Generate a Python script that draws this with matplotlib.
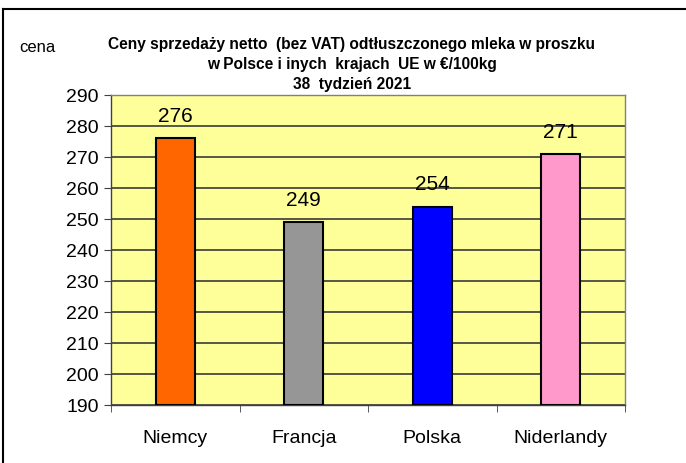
import matplotlib
matplotlib.use("Agg")
import matplotlib.pyplot as plt
from matplotlib import font_manager
from matplotlib.lines import Line2D

names = {f.name for f in font_manager.fontManager.ttflist}
narrow = "Liberation Sans Narrow" if "Liberation Sans Narrow" in names else "Liberation Sans"

categories = ["Niemcy", "Francja", "Polska", "Niderlandy"]
values = [276, 249, 254, 271]
colors = ["#FF6600", "#969696", "#0000FF", "#FF99CC"]
yticks = [190, 200, 210, 220, 230, 240, 250, 260, 270, 280, 290]

fig = plt.figure(figsize=(6.86, 4.64), dpi=100)
ax = fig.add_axes([111/686, 58/464, 514/686, 310/464])
ax.set_facecolor("#FFFF99")

x = list(range(len(categories)))
bottom = 190
ax.bar(x, [v - bottom for v in values], bottom=bottom, width=0.3, color=colors,
       edgecolor="black", linewidth=1.5, zorder=3)
for xi, v in zip(x, values):
    ax.text(xi, v + 4.3, str(v), ha="center", va="bottom", fontsize=15,
            family=narrow, zorder=4)

ax.set_xlim(-0.5, len(categories) - 0.5)
ax.set_ylim(190, 290)
ax.set_yticks(yticks)
ax.set_yticklabels([str(t) for t in yticks], family=narrow, fontsize=14)
ax.set_xticks(x)
ax.set_xticklabels(categories, family=narrow, fontsize=14)
ax.set_xticks([i - 0.5 for i in range(len(categories) + 1)], minor=True)
ax.tick_params(axis="x", which="major", length=0, pad=17)
ax.tick_params(axis="x", which="minor", length=5, color="#404040", direction="out")
ax.tick_params(axis="y", length=5, color="#404040", direction="out", pad=4)
ax.grid(axis="y", color="#3A3A3A", linewidth=1.2, zorder=1)
for s in ["left", "bottom", "right", "top"]:
    ax.spines[s].set_color("#808080")
    ax.spines[s].set_linewidth(1.0)
ax.spines["left"].set_color("#404040")
ax.spines["bottom"].set_color("#404040")

cx = 352 / 686
fig.text(cx, 1 - 45/464,
         "Ceny sprzedaży netto  (bez VAT) odtłuszczonego mleka w proszku",
         ha="center", va="center", fontsize=11.2, fontweight="bold", family=narrow)
fig.text(cx, 1 - 65/464,
         "w Polsce i inych  krajach  UE w €/100kg",
         ha="center", va="center", fontsize=11.2, fontweight="bold", family=narrow)
fig.text(cx, 1 - 85/464,
         "38  tydzień 2021",
         ha="center", va="center", fontsize=11.2, fontweight="bold", family=narrow)
fig.text(19/686, 1 - 48/464, "cena", ha="left", va="center", fontsize=12,
         family=narrow)

fig.add_artist(Line2D([3/686, 3/686], [0, 1 - 10/464], transform=fig.transFigure,
                      color="black", linewidth=1.5))
fig.add_artist(Line2D([3/686, 1], [1 - 10/464, 1 - 10/464], transform=fig.transFigure,
                      color="black", linewidth=1.5))

fig.savefig("out.png", dpi=100)
